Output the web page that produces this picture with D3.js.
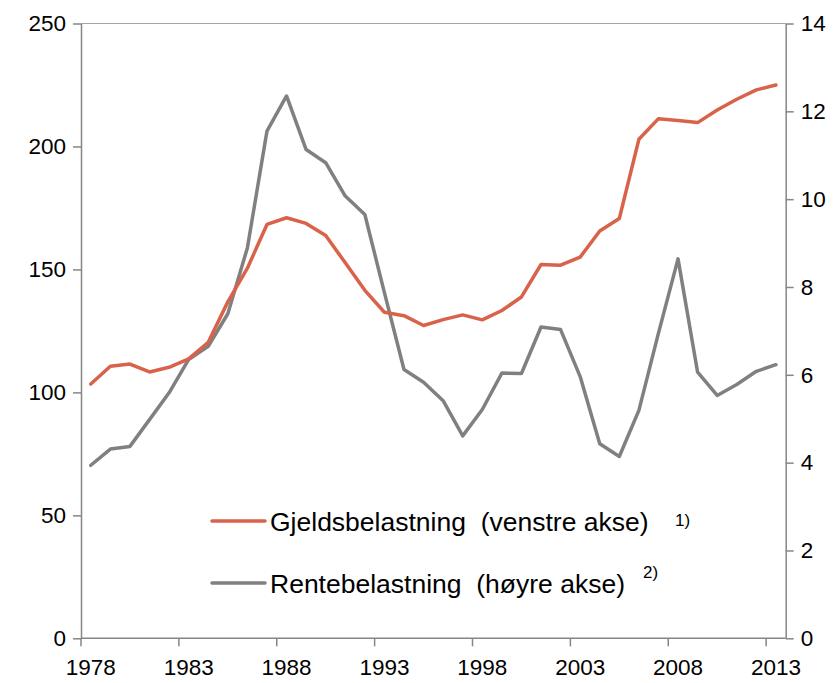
<!DOCTYPE html>
<html><head><meta charset="utf-8">
<script src="https://cdn.jsdelivr.net/npm/d3@7"></script>
<style>body{margin:0;background:#fff}svg{display:block}text{font-family:"Liberation Sans",Arial,sans-serif}</style>
</head><body>
<script>
const years = d3.range(1978, 2014);
const tickYears = [1978, 1983, 1988, 1993, 1998, 2003, 2008, 2013];
const gjeld = [103.4,110.6,111.5,108.3,110.2,113.6,120.4,136.8,150.5,168.3,171.0,168.7,163.8,152.7,141.5,132.6,131.2,127.2,129.6,131.5,129.5,133.3,138.8,152.0,151.7,155.0,165.6,170.7,202.9,211.3,210.6,209.7,214.8,219.2,223.0,225.0];
const rente = [3.94,4.31,4.37,4.98,5.59,6.35,6.65,7.39,8.89,11.55,12.35,11.13,10.83,10.07,9.65,7.87,6.12,5.83,5.41,4.61,5.21,6.04,6.03,7.09,7.03,5.96,4.43,4.14,5.19,6.95,8.64,6.06,5.53,5.78,6.08,6.23];
const leftTicks = [0,50,100,150,200,250];
const rightTicks = [0,2,4,6,8,10,12,14];
const seriesNames = ["Gjeldsbelastning  (venstre akse)", "Rentebelastning  (høyre akse)"];
const notes = ["1)", "2)"];

const W = 840, H = 683;
const m = {left: 81, right: 840-785.7, top: 23.5, bottom: 683-638.3};
const svg = d3.select("body").append("svg").attr("width", W).attr("height", H);
const x = d3.scaleBand().domain(years).range([m.left, W - m.right]);
const yL = d3.scaleLinear().domain([0,250]).range([H - m.bottom, m.top]);
const yR = d3.scaleLinear().domain([0,14]).range([H - m.bottom, m.top]);
const axisColor = "#868686";
const FS = 22.5;

// top border
svg.append("line").attr("x1", m.left).attr("x2", W - m.right).attr("y1", m.top).attr("y2", m.top)
  .attr("stroke", "#a6a6a6").attr("stroke-width", 1);

const gl = svg.append("g").attr("transform", `translate(${m.left},0)`)
  .call(d3.axisLeft(yL).tickValues(leftTicks).tickSize(8).tickSizeOuter(0).tickPadding(7));
const gr = svg.append("g").attr("transform", `translate(${W - m.right},0)`)
  .call(d3.axisRight(yR).tickValues(rightTicks).tickSize(8).tickSizeOuter(0).tickPadding(7));
const bx = d3.scaleLinear().domain([0, years.length]).range([m.left, W - m.right]);
const gb = svg.append("g").attr("transform", `translate(0,${H - m.bottom})`);
gb.append("line").attr("x1", m.left).attr("x2", W - m.right).attr("stroke", axisColor).attr("stroke-width", 1.5);
d3.range(0, years.length + 1, 5).forEach(i => {
  gb.append("line").attr("x1", bx(i)).attr("x2", bx(i)).attr("y1", 0).attr("y2", 8)
    .attr("stroke", axisColor).attr("stroke-width", 1.5);
});
gb.selectAll("text.lab").data(tickYears).join("text").attr("class","lab")
  .attr("x", d => x(d) + x.bandwidth()/2).attr("y", 37).attr("text-anchor","middle")
  .attr("font-size", FS).attr("fill","#000").text(d => d);

[gl, gr].forEach(g => {
  g.select(".domain").attr("stroke", axisColor).attr("stroke-width", 1.5);
  g.selectAll(".tick line").attr("stroke", axisColor).attr("stroke-width", 1.5);
  g.selectAll(".tick text").attr("font-size", FS).attr("fill", "#000")
    .attr("font-family", '"Liberation Sans",Arial,sans-serif');
});

const cx = d => x(d) + x.bandwidth()/2;
const lineL = d3.line().x((d,i) => cx(years[i])).y(d => yL(d));
const lineR = d3.line().x((d,i) => cx(years[i])).y(d => yR(d));
svg.append("path").attr("d", lineR(rente)).attr("fill","none").attr("stroke","#808080")
  .attr("stroke-width", 3.5).attr("stroke-linejoin","round").attr("stroke-linecap","round");
svg.append("path").attr("d", lineL(gjeld)).attr("fill","none").attr("stroke","#D9624A")
  .attr("stroke-width", 3.5).attr("stroke-linejoin","round").attr("stroke-linecap","round");

// legend
const leg = [{c:"#D9624A", y:521, nx:675, ny:526},{c:"#808080", y:583, nx:643, ny:578}];
leg.forEach((l,i) => {
  svg.append("line").attr("x1",212).attr("x2",265).attr("y1",l.y).attr("y2",l.y)
    .attr("stroke",l.c).attr("stroke-width",3.5).attr("stroke-linecap","round");
  svg.append("text").attr("x",270).attr("y",l.y+9.5).attr("font-size",26.5).attr("fill","#000")
    .style("white-space","pre").text(seriesNames[i]);
  svg.append("text").attr("x",l.nx).attr("y",l.ny).attr("font-size",17).attr("fill","#000").text(notes[i]);
});
</script>
</body></html>
